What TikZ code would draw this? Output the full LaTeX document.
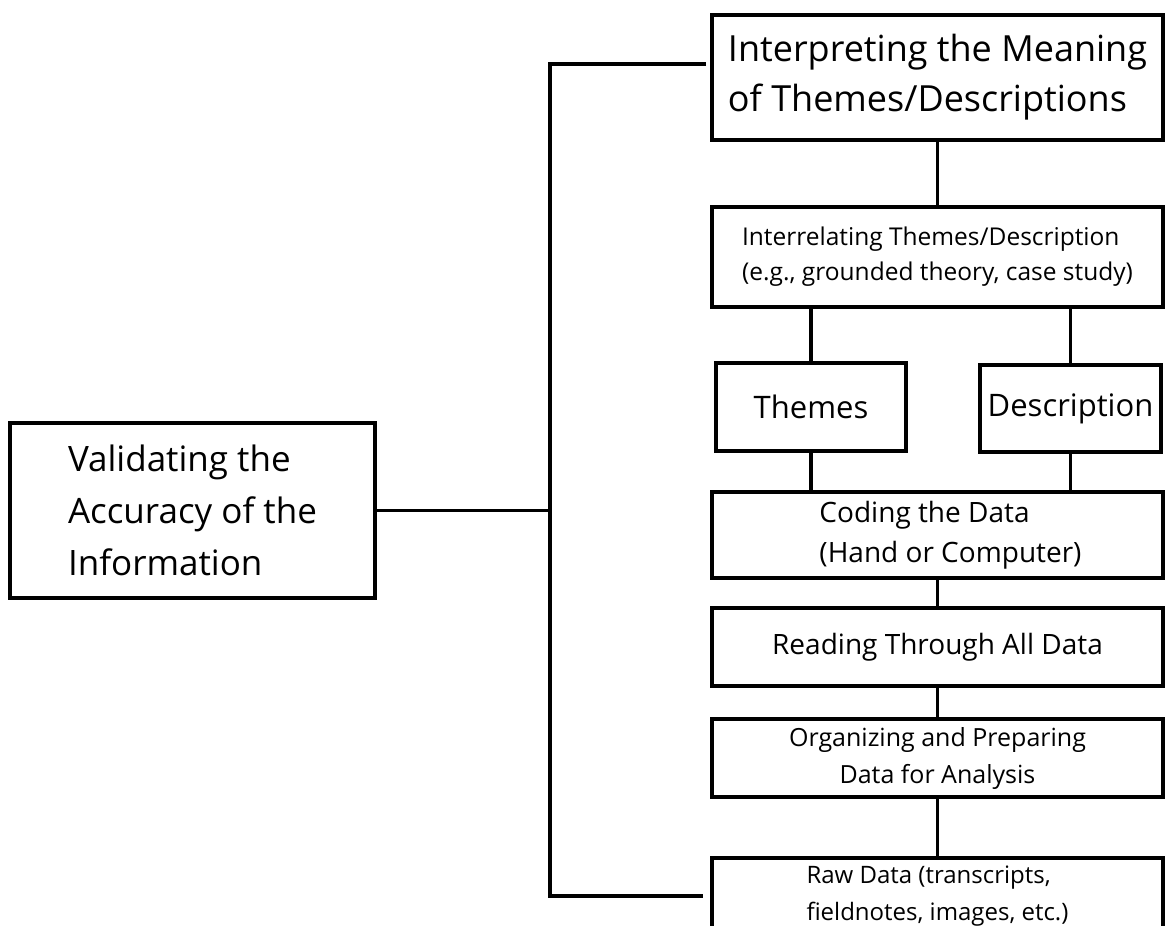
\documentclass[tikz,border=0pt]{standalone}
\usepackage{fontspec}
\setmainfont{Open Sans}
\usetikzlibrary{positioning}

\tikzset{
  stage/.style={draw, line width=4pt, outer sep=0pt, inner sep=0pt, minimum width=451pt},
  conn/.style={line width=3.3pt},
}

\begin{document}
\begin{tikzpicture}[x=1pt, y=-1pt]
  \useasboundingbox (0,0) rectangle (1165,926);

  % Define nodes
  \node[stage, minimum height=125pt, align=left, font=\fontsize{36}{50}\selectfont] (interp) at (937.5,77.5)
    {Interpreting the Meaning\\of Themes/Descriptions};
  \node[stage, minimum height=100pt, align=left, font=\fontsize{24.5}{35}\selectfont, below=67pt of interp] (interrel)
    {Interrelating Themes/Description\\(e.g., grounded theory, case study)};
  \node[stage, minimum width=190pt, minimum height=88pt, font=\fontsize{31}{37}\selectfont,
        below right=56pt and 4pt of interrel.south west] (themes) {Themes};
  \node[stage, minimum width=181pt, minimum height=87pt, font=\fontsize{31}{37}\selectfont,
        below left=58pt and 2pt of interrel.south east] (descr) {Description};
  \node[stage, minimum height=86pt, align=left, font=\fontsize{28}{40}\selectfont, below=185pt of interrel] (coding)
    {\hspace*{26pt}Coding the Data\\\hspace*{26pt}(Hand or Computer)};
  \node[stage, minimum height=78pt, font=\fontsize{28}{36}\selectfont, below=30pt of coding] (reading)
    {Reading Through All Data};
  \node[stage, minimum height=78pt, align=center, font=\fontsize{25}{37}\selectfont, below=33pt of reading] (organize)
    {Organizing and Preparing\\Data for Analysis};
  \node[stage, minimum height=76pt, align=left, font=\fontsize{24}{37}\selectfont, below=61pt of organize] (raw)
    {Raw Data (transcripts,\\fieldnotes, images, etc.)};

  \node[stage, minimum width=365pt, minimum height=175pt, align=left, font=\fontsize{35}{52}\selectfont] (valid) at (192.5,510.5)
    {Validating the\\Accuracy of the\\Information};

  % Spine on the left
  \coordinate (sptop) at (550,64);
  \coordinate (spbot) at (550,896);

  % Factors
  \draw[conn] (interp) -- (interrel);
  \draw[conn] (themes.north) -- (themes.north |- interrel.south);
  \draw[conn] (descr.north) -- (descr.north |- interrel.south);
  \draw[conn] (themes.south) -- (themes.south |- coding.north);
  \draw[conn] (descr.south) -- (descr.south |- coding.north);
  \draw[conn] (coding) -- (reading);
  \draw[conn] (reading) -- (organize);
  \draw[conn] (organize) -- (raw);

  \draw[conn, shorten <=6pt, shorten >=9pt] ([yshift=13.5pt]interp.west) -- (sptop) -- (spbot) -- (raw.west);
  \draw[conn] (valid.east) -- (valid.east -| sptop);

\end{tikzpicture}
\end{document}
